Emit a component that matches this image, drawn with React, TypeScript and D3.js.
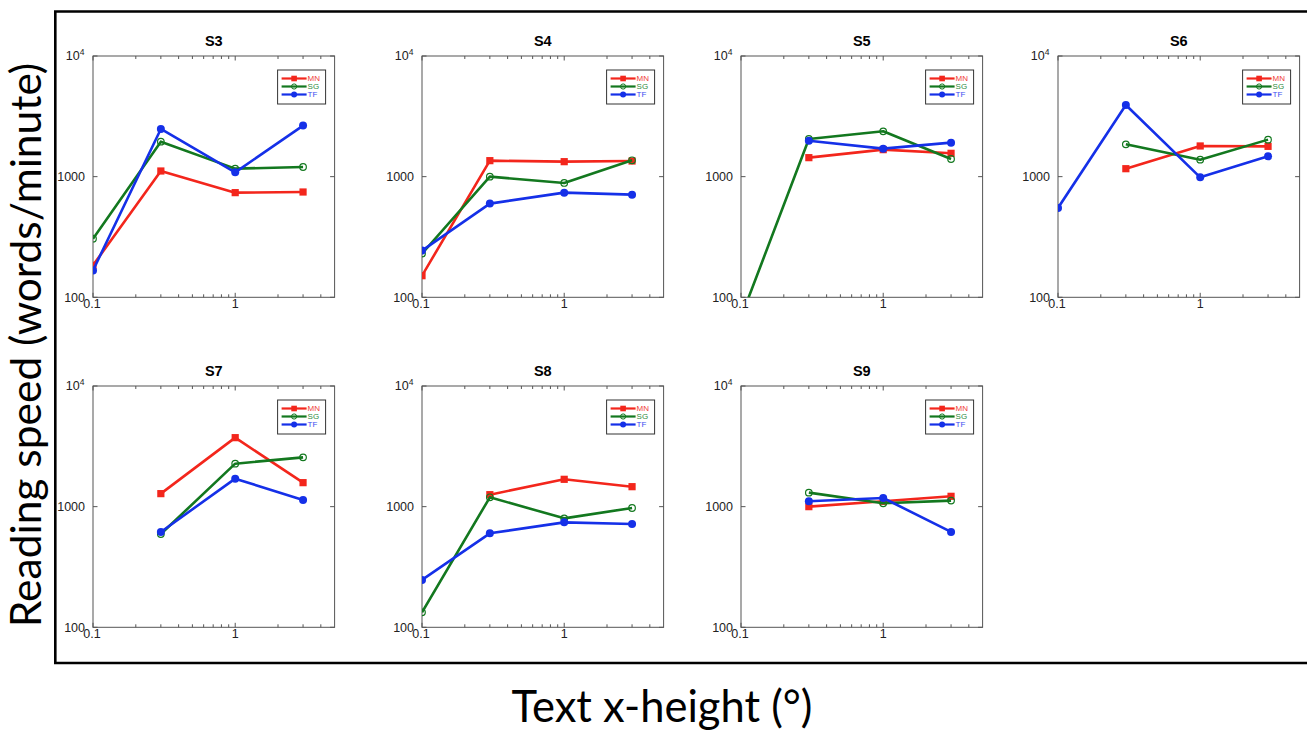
import React from "react";
import * as d3 from "d3";

// ---- data ----
const xValues = [0.1, 0.3, 1, 3];
const panelTitles = ["S3", "S4", "S5", "S6", "S7", "S8", "S9"];
const seriesNames = ["MN", "SG", "TF"];
const mnSpeed: (number | null)[][] = [
  [184, 1114, 737, 746],
  [151, 1357, 1331, 1348],
  [null, 1437, 1674, 1561],
  [null, 1164, 1796, 1783],
  [null, 1282, 3731, 1581],
  [null, 1257, 1685, 1464],
  [null, 1000, 1107, 1218],
];
const sgSpeed: (number | null)[][] = [
  [306, 1950, 1165, 1202],
  [230, 1000, 887, 1366],
  [68, 2052, 2375, 1401],
  [null, 1853, 1383, 2027],
  [null, 593, 2271, 2563],
  [133, 1195, 800, 975],
  [null, 1306, 1066, 1122],
];
const tfSpeed: (number | null)[][] = [
  [167, 2484, 1086, 2648],
  [244, 598, 737, 709],
  [null, 1986, 1706, 1914],
  [550, 3926, 987, 1474],
  [null, 617, 1706, 1136],
  [247, 601, 741, 718],
  [null, 1107, 1180, 617],
];
const xTickLabels = ["0.1", "1"];
const xMajorTicks = [0.1, 1];
const xMinorTicks = [0.2, 0.3, 0.4, 0.5, 0.6, 0.7, 0.8, 0.9, 2, 3, 4];
const yTicks = [100, 1000, 10000];

// ---- layout ----
const panelPos = [
  { left: 93, top: 56 },
  { left: 422, top: 56 },
  { left: 741, top: 56 },
  { left: 1058, top: 56 },
  { left: 93, top: 386 },
  { left: 422, top: 386 },
  { left: 741, top: 386 },
];
const AW = 241.6;
const AH = 241.3;
const colors = ["#f3261c", "#13781f", "#1530e8"];
const textColors = ["#f0403a", "#2f8a3c", "#3a4cf0"];
const tickFont = "'Liberation Sans', Arial, Helvetica, sans-serif";

function Marker({ kind, x, y, color }: { kind: number; x: number; y: number; color: string }) {
  if (kind === 0) return <rect x={x - 3.6} y={y - 3.6} width={7.2} height={7.2} fill={color} />;
  if (kind === 1) return <circle cx={x} cy={y} r={3.3} fill="none" stroke={color} strokeWidth={1.2} />;
  return <circle cx={x} cy={y} r={4} fill={color} />;
}

function Panel({ idx }: { idx: number }) {
  const { left, top } = panelPos[idx];
  const x = d3.scaleLog().domain([0.1, 5]).range([left, left + AW]);
  const y = d3.scaleLog().domain([100, 10000]).range([top + AH, top]);
  const allSeries = [mnSpeed[idx], sgSpeed[idx], tfSpeed[idx]];
  const line = d3
    .line<{ x: number; v: number | null }>()
    .defined((d) => d.v != null)
    .x((d) => x(d.x))
    .y((d) => y(d.v as number));
  const clipId = `clip${idx}`;
  const bottom = top + AH;
  const right = left + AW;
  const legW = 48, legH = 34;
  const legX = right - 9 - legW;
  const legY = top + 14;
  return (
    <g>
      <defs>
        <clipPath id={clipId}>
          <rect x={left} y={top} width={AW} height={AH} />
        </clipPath>
      </defs>
      <text x={left + AW / 2} y={top - 10.5} textAnchor="middle" fontFamily={tickFont} fontWeight="bold" fontSize={14.5}>
        {panelTitles[idx]}
      </text>
      <rect x={left} y={top} width={AW} height={AH} fill="white" stroke="#555" strokeWidth={1} />
      {/* x ticks */}
      {xMinorTicks.map((t) => (
        <g key={"mi" + t}>
          <line x1={x(t)} x2={x(t)} y1={top} y2={top + 3} stroke="#555" strokeWidth={1} />
          <line x1={x(t)} x2={x(t)} y1={bottom} y2={bottom - 3} stroke="#555" strokeWidth={1} />
        </g>
      ))}
      {xMajorTicks.map((t, i) => (
        <g key={"ma" + t}>
          <line x1={x(t)} x2={x(t)} y1={top} y2={top + 4.5} stroke="#555" strokeWidth={1} />
          <line x1={x(t)} x2={x(t)} y1={bottom} y2={bottom - 4.5} stroke="#555" strokeWidth={1} />
          <text x={x(t) - (i === 0 ? 1 : 0)} y={bottom + 11} textAnchor="middle" fontFamily={tickFont} fontSize={12.5} fill="#222">
            {xTickLabels[i]}
          </text>
        </g>
      ))}
      {/* y ticks */}
      {yTicks.map((t) => (
        <g key={"y" + t}>
          <line x1={left} x2={left + 4.5} y1={y(t)} y2={y(t)} stroke="#555" strokeWidth={1} />
          <line x1={right} x2={right - 4.5} y1={y(t)} y2={y(t)} stroke="#555" strokeWidth={1} />
          {t === 10000 ? (
            <text x={left - 8.5} y={y(t) + 4} textAnchor="end" fontFamily={tickFont} fontSize={12.5} fill="#222">
              10
              <tspan fontSize={8.5} dy={-5}>4</tspan>
            </text>
          ) : (
            <text x={left - 8} y={y(t) + 4.3} textAnchor="end" fontFamily={tickFont} fontSize={12.5} fill="#222">
              {d3.format("d")(t)}
            </text>
          )}
        </g>
      ))}
      {/* series */}
      <g clipPath={`url(#${clipId})`}>
        {allSeries.map((vals, s) => {
          const pts = xValues.map((xv, j) => ({ x: xv, v: vals[j] }));
          return (
            <g key={"s" + s}>
              <path d={line(pts) || ""} fill="none" stroke={colors[s]} strokeWidth={2.6} strokeLinejoin="round" />
              {pts
                .filter((p) => p.v != null)
                .map((p, k) => (
                  <Marker key={k} kind={s} x={x(p.x)} y={y(p.v as number)} color={colors[s]} />
                ))}
            </g>
          );
        })}
      </g>
      {/* legend */}
      <rect x={legX} y={legY} width={legW} height={legH} fill="white" stroke="#333" strokeWidth={1} />
      {seriesNames.map((n, s) => {
        const ry = legY + 8.5 + s * 8;
        const lx1 = legX + 4, lx2 = legX + 29;
        return (
          <g key={n}>
            <line x1={lx1} x2={lx2} y1={ry} y2={ry} stroke={colors[s]} strokeWidth={2.2} />
            {s === 0 ? (
              <rect x={(lx1 + lx2) / 2 - 2.8} y={ry - 2.8} width={5.6} height={5.6} fill={colors[s]} />
            ) : s === 1 ? (
              <circle cx={(lx1 + lx2) / 2} cy={ry} r={2.6} fill="none" stroke={colors[s]} strokeWidth={1} />
            ) : (
              <circle cx={(lx1 + lx2) / 2} cy={ry} r={3} fill={colors[s]} />
            )}
            <text x={lx2 + 1} y={ry + 2.9} fontFamily={tickFont} fontSize={8} fill={textColors[s]}>
              {n}
            </text>
          </g>
        );
      })}
    </g>
  );
}

export default function App() {
  return (
    <div style={{ position: "absolute", left: 0, top: 0 }}>
      <svg width={1307} height={730} style={{ display: "block", background: "white" }}>
        <rect x={0} y={0} width={1307} height={730} fill="white" />
        <path d="M1312,11.5 H55.3 V663 H1312" fill="none" stroke="#000" strokeWidth={2.6} />
        {panelTitles.map((_, i) => (
          <Panel key={i} idx={i} />
        ))}
        <text
          transform="translate(41,345) rotate(-90)"
          textAnchor="middle"
          fontFamily="Lato, 'Open Sans', sans-serif"
          fontSize={42.5}
          fill="#000"
        >
          Reading speed (words/minute)
        </text>
        <text x={662} y={722} textAnchor="middle" fontFamily="Lato, 'Open Sans', sans-serif" fontSize={43.5} fill="#000">
          Text x-height (°)
        </text>
      </svg>
    </div>
  );
}
